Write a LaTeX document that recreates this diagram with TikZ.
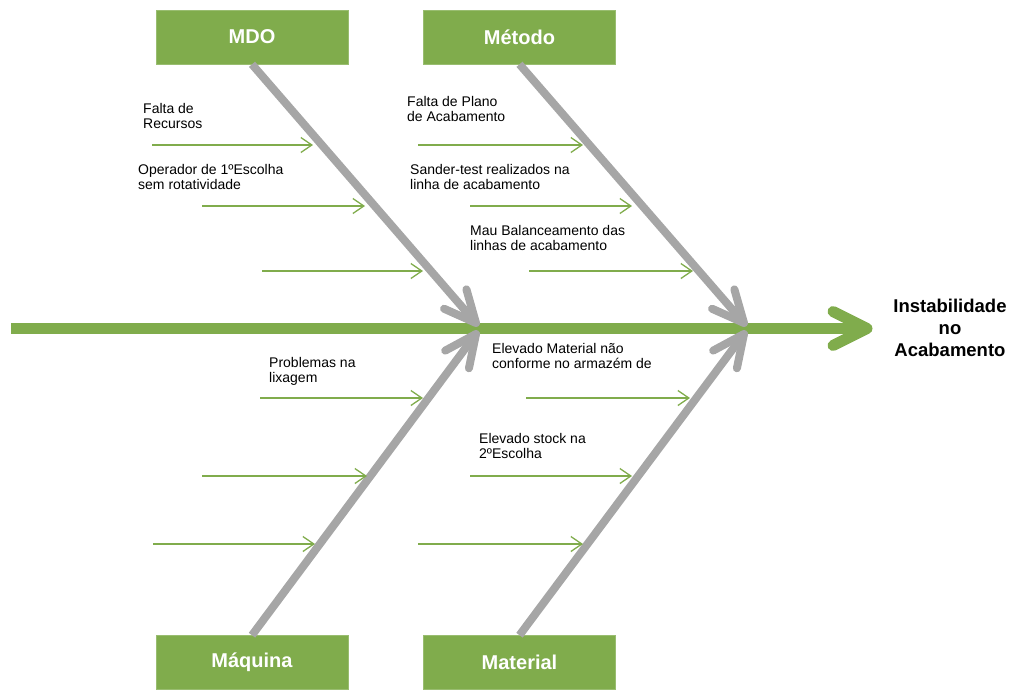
\documentclass[tikz,border=0pt]{standalone}
\usepackage{fontspec}
\setmainfont{Liberation Sans}
\usetikzlibrary{arrows.meta,calc}
\definecolor{fgreen}{RGB}{128,172,76}
\definecolor{fgray}{RGB}{166,166,166}
\begin{document}
\begin{tikzpicture}[x=1pt,y=-1pt,
  catbox/.style={fill=fgreen, draw=fgreen!80!white, line width=0.6pt, minimum width=192pt, minimum height=54pt, inner sep=0pt, text=white, font=\bfseries\fontsize{20}{22}\selectfont},
  boneshaft/.style={draw=fgray, line width=8pt},
  bonehead/.style={draw=fgray, line width=8pt, line cap=round, line join=round},
  spine/.style={draw=fgreen, line width=11pt},
  headchev/.style={draw=fgreen, line width=11pt, line cap=round, line join=round},
  cause/.style={draw=fgreen, line width=1.3pt, -{Straight Barb[length=11pt,width=15pt]}},
  lbl/.style={anchor=north west, inner sep=0pt, align=left, font=\fontsize{14}{15.5}\selectfont},
  effect/.style={anchor=north, inner sep=0pt, align=center, font=\bfseries\fontsize{18.5}{22}\selectfont}
]
\useasboundingbox (0,0) rectangle (1015,689);

% spine
\coordinate (tail) at (11,328.5);
\coordinate (head) at (867,328.5);
\draw[spine] (tail) -- (head);
\draw[headchev] ($(head)+(-34,-17)$) -- (head) -- ($(head)+(-34,17)$);
\node[effect] (eff) at (950,299) {Instabilidade\\no\\Acabamento};

% category boxes
\node[catbox] (mdo) at (252,37) {MDO};
\node[catbox] (met) at (519.5,37) {Método};
\node[catbox] (maq) at (252,662.5) {Máquina};
\node[catbox] (mat) at (519.5,662.5) {Material};

% bones
\coordinate (tA) at (476,323);
\coordinate (tB) at (744,323);
\coordinate (tC) at (476,334);
\coordinate (tD) at (744,334);
\draw[boneshaft] (mdo.south) -- (tA);
\draw[bonehead] ($(tA)!35pt!25:(mdo.south)$) -- (tA) -- ($(tA)!35pt!-25:(mdo.south)$);
\draw[boneshaft] (met.south) -- (tB);
\draw[bonehead] ($(tB)!35pt!25:(met.south)$) -- (tB) -- ($(tB)!35pt!-25:(met.south)$);
\draw[boneshaft] (maq.north) -- (tC);
\draw[bonehead] ($(tC)!35pt!25:(maq.north)$) -- (tC) -- ($(tC)!35pt!-25:(maq.north)$);
\draw[boneshaft] (mat.north) -- (tD);
\draw[bonehead] ($(tD)!35pt!25:(mat.north)$) -- (tD) -- ($(tD)!35pt!-25:(mat.north)$);

% cause arrows - MDO
\coordinate (a1s) at (152,145); \coordinate (a1e) at (313,145);
\coordinate (a2s) at (202,206); \coordinate (a2e) at (365,206);
\coordinate (a3s) at (262,271); \coordinate (a3e) at (423,271);
\draw[cause] (a1s) -- (a1e);
\draw[cause] (a2s) -- (a2e);
\draw[cause] (a3s) -- (a3e);
% Metodo
\coordinate (b1s) at (418,145); \coordinate (b1e) at (583,145);
\coordinate (b2s) at (470,206); \coordinate (b2e) at (632,206);
\coordinate (b3s) at (529,271); \coordinate (b3e) at (693,271);
\draw[cause] (b1s) -- (b1e);
\draw[cause] (b2s) -- (b2e);
\draw[cause] (b3s) -- (b3e);
% Maquina
\coordinate (c1s) at (260,398); \coordinate (c1e) at (423,398);
\coordinate (c2s) at (202,476); \coordinate (c2e) at (367,476);
\coordinate (c3s) at (153,544); \coordinate (c3e) at (315,544);
\draw[cause] (c1s) -- (c1e);
\draw[cause] (c2s) -- (c2e);
\draw[cause] (c3s) -- (c3e);
% Material
\coordinate (d1s) at (526,398); \coordinate (d1e) at (690,398);
\coordinate (d2s) at (470,476); \coordinate (d2e) at (632,476);
\coordinate (d3s) at (418,544); \coordinate (d3e) at (583,544);
\draw[cause] (d1s) -- (d1e);
\draw[cause] (d2s) -- (d2e);
\draw[cause] (d3s) -- (d3e);

% labels
\node[lbl] (l1) at (143,103) {Falta de\\Recursos};
\node[lbl] (l2) at (138,164) {Operador de 1ºEscolha\\sem rotatividade};
\node[lbl] (l3) at (407,96) {Falta de Plano\\de Acabamento};
\node[lbl] (l4) at (410,164) {Sander-test realizados na\\linha de acabamento};
\node[lbl] (l5) at (470,225) {Mau Balanceamento das\\linhas de acabamento};
\node[lbl] (l6) at (269,357) {Problemas na\\lixagem};
\node[lbl] (l7) at (492,343) {Elevado Material não\\conforme no armazém de};
\node[lbl] (l8) at (479,433) {Elevado stock na\\2ºEscolha};
\end{tikzpicture}
\end{document}
